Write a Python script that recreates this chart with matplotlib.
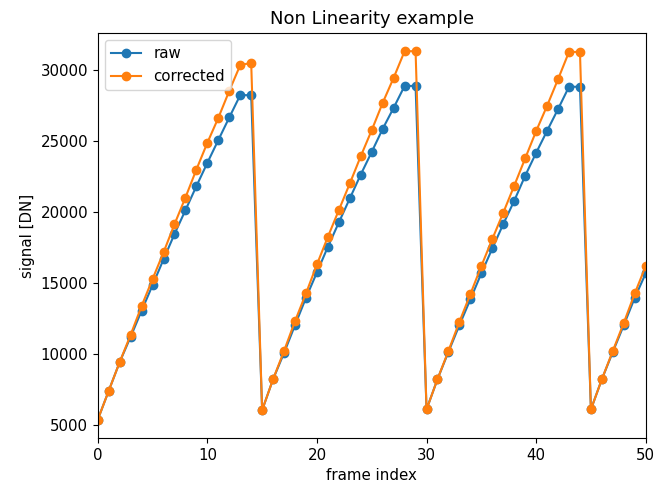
import matplotlib
matplotlib.use("Agg")
import matplotlib.pyplot as plt
import numpy as np

# values (frames 0..50)
frames = list(range(51))
raw = [
    5380, 7410, 9430, 11210, 13040, 14840, 16650, 18430, 20110, 21800,
    23440, 25040, 26630, 28200, 28200,
    6050, 8230, 10080, 12030, 13950, 15740, 17540, 19250, 20940, 22620,
    24210, 25830, 27310, 28850, 28850,
    6100, 8230, 10150, 12030, 13840, 15670, 17420, 19130, 20770, 22530,
    24140, 25690, 27220, 28790, 28790,
    6100, 8230, 10150, 12030, 13950, 15670,
]
corrected = [
    5380, 7410, 9430, 11350, 13370, 15270, 17140, 19120, 21000, 22970,
    24850, 26600, 28500, 30310, 30470,
    6050, 8230, 10220, 12310, 14260, 16300, 18240, 20120, 21990, 23910,
    25740, 27660, 29420, 31290, 31290,
    6100, 8230, 10220, 12260, 14210, 16180, 18080, 19930, 21830, 23750,
    25670, 27450, 29320, 31240, 31240,
    6100, 8230, 10220, 12190, 14260, 16180,
]

plt.rcParams["font.size"] = 10.8

fig = plt.figure(figsize=(6.65, 4.82), dpi=100)
ax = fig.add_axes([0.147, 0.091, 0.824, 0.841])
ax.plot(frames, raw, "o-", label="raw")
ax.plot(frames, corrected, "o-", label="corrected")
ax.set_xlim(0, 50)
ax.set_xlabel("frame index")
ax.set_ylabel("signal [DN]")
ax.set_title("Non Linearity example")
ax.legend(loc="upper left")
fig.savefig("out.png", dpi=100)
